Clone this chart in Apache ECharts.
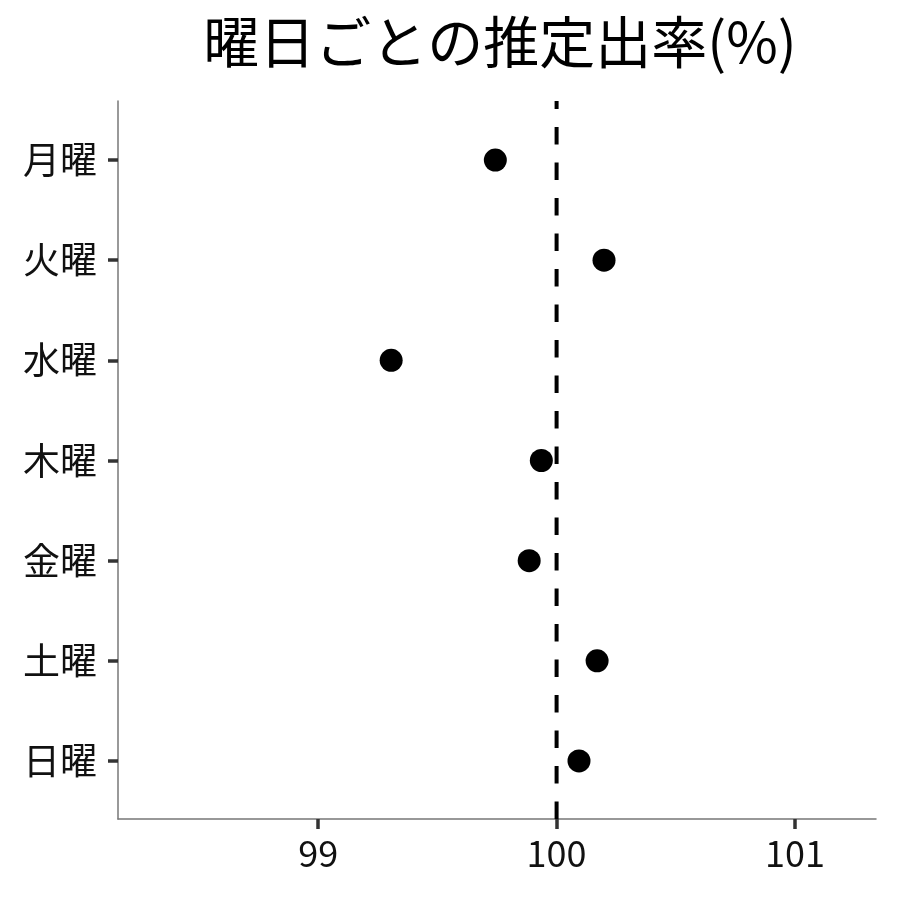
<!DOCTYPE html>
<html>
<head>
<meta charset="utf-8">
<script src="https://cdn.jsdelivr.net/npm/echarts@6/dist/echarts.min.js"></script>
<style>html,body{margin:0;padding:0;background:#fff}#c{width:900px;height:900px}</style>
</head>
<body>
<div id="c"></div>
<script>
const days = ['月曜','火曜','水曜','木曜','金曜','土曜','日曜'];
const rates = [99.743, 100.199, 99.306, 99.936, 99.885, 100.170, 100.094];
const xTicks = [99, 100, 101];
const refValue = [100];
const titleText = '曜日ごとの推定出率(%)';

const FONT = '"Noto Sans CJK JP", "Noto Sans", sans-serif';
const yIdx = days.map((d, i) => i);
const chart = echarts.init(document.getElementById('c'), null, {renderer: 'canvas'});
chart.setOption({
  animation: false,
  backgroundColor: '#fff',
  title: {
    text: titleText, left: 495, top: 9, textAlign: 'center',
    textStyle: {fontFamily: FONT, fontSize: 56, fontWeight: 'normal', color: '#000'}
  },
  grid: {left: 118, right: 24, top: 101, bottom: 81, containLabel: false},
  xAxis: {
    type: 'value', min: 98.16, max: 101.34,
    splitLine: {show: false},
    axisLine: {show: true, onZero: false, lineStyle: {color: '#777', width: 1.5}},
    axisTick: {show: true, customValues: xTicks, length: 10, lineStyle: {color: '#333', width: 3.5}},
    axisLabel: {customValues: xTicks, margin: 16, fontFamily: FONT, fontSize: 36, color: '#111'}
  },
  yAxis: {
    type: 'value', inverse: true, min: -0.59, max: 6.58,
    splitLine: {show: false},
    axisLine: {show: true, onZero: false, lineStyle: {color: '#777', width: 1.5}},
    axisTick: {show: true, customValues: yIdx, length: 10, lineStyle: {color: '#333', width: 3.5}},
    axisLabel: {customValues: yIdx, margin: 21, fontFamily: FONT, fontSize: 37, color: '#111',
      formatter: v => days[Math.round(v)] || ''}
  },
  series: [
    {
      type: 'line', silent: true, symbol: 'none', z: 1,
      data: [[refValue[0], 6.58], [refValue[0], -0.59]],
      lineStyle: {color: '#000', width: 4, type: [17.5, 18]}
    },
    {
      type: 'scatter', z: 2, symbol: 'circle', symbolSize: 23,
      itemStyle: {color: '#000', opacity: 1},
      data: rates.map((r, i) => [r, i])
    }
  ]
});
</script>
</body>
</html>
